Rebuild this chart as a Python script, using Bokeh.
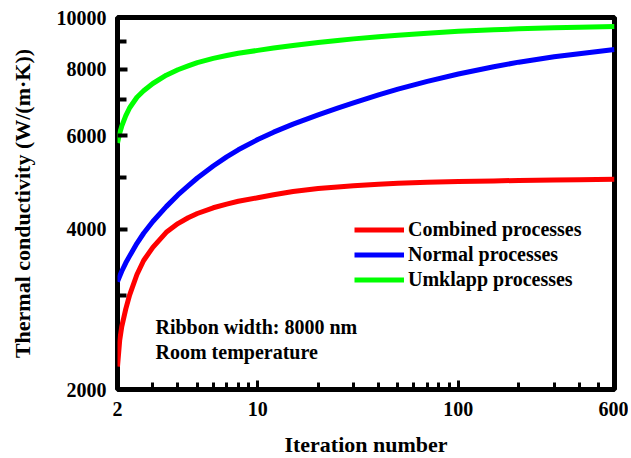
from bokeh.plotting import figure
from bokeh.models import (Range1d, FixedTicker, NumeralTickFormatter, Legend,
                          LegendItem, Label, LogAxis)
from bokeh.embed import file_html
from bokeh.resources import INLINE

# ---- data ----
iterations = [2, 2.05, 2.1, 2.2, 2.3, 2.5, 2.7, 3, 3.5, 4, 4.5, 5, 6, 7, 8, 10, 12, 15, 20, 25,
              30, 40, 50, 70, 100, 150, 200, 300, 400, 600]
combined = [2210, 2470, 2625, 2835, 3013, 3289, 3495, 3700, 3948, 4100, 4205, 4283, 4390, 4460,
            4515, 4585, 4645, 4710, 4770, 4805, 4830, 4862, 4880, 4902, 4918, 4932, 4941, 4951,
            4958, 4965]
normal = [3190, 3264, 3336, 3460, 3565, 3764, 3932, 4138, 4412, 4641, 4825, 4994, 5260, 5473,
          5641, 5897, 6089, 6303, 6561, 6754, 6910, 7154, 7333, 7584, 7831, 8083, 8243, 8439,
          8550, 8705]
umklapp = [5813, 6062, 6249, 6539, 6767, 7082, 7283, 7516, 7790, 7977, 8110, 8228, 8380, 8482,
           8564, 8674, 8762, 8860, 8975, 9056, 9117, 9204, 9264, 9342, 9420, 9485, 9522, 9565,
           9590, 9619]

series_names = ["Combined processes", "Normal processes", "Umklapp processes"]
series_colors = ["#ff0000", "#0000ff", "#00ff00"]

x_ticks = [2, 10, 100, 600]
x_minor = [3, 4, 5, 6, 7, 8, 9, 20, 30, 40, 50, 60, 70, 80, 90, 200, 300, 400, 500]
y_ticks = [2000, 4000, 6000, 8000, 10000]
y_minor = [3000, 5000, 7000, 9000]

x_label = "Iteration number"
y_label = "Thermal conductivity (W/(m\u00b7K))"
notes = ["Ribbon width: 8000 nm", "Room temperature"]

FONT = "Liberation Serif"

p = figure(frame_width=497, frame_height=372,
           x_axis_type="log", y_axis_type="log",
           x_range=Range1d(x_ticks[0], x_ticks[-1]),
           y_range=Range1d(y_ticks[0], y_ticks[-1]),
           output_backend="svg", toolbar_location=None,
           min_border_left=117, min_border_right=14,
           min_border_top=17, min_border_bottom=0)
p.grid.visible = False
p.outline_line_color = "black"
p.outline_line_width = 5
p.outline_line_alpha = 1.0
p.background_fill_color = "white"
p.border_fill_color = "white"

renderers = []
for ys, c in zip([combined, normal, umklapp], series_colors):
    r = p.line(iterations, ys, line_color=c, line_width=5, line_join="round")
    renderers.append(r)

# ---- label axes (no ticks) ----
p.xaxis.ticker = FixedTicker(ticks=x_ticks, minor_ticks=x_minor)
p.yaxis.ticker = FixedTicker(ticks=y_ticks, minor_ticks=y_minor)
for ax in (p.xaxis, p.yaxis):
    ax.formatter = NumeralTickFormatter(format="0")
    ax.axis_line_color = None
    ax.major_tick_line_color = None
    ax.minor_tick_line_color = None
    ax.major_tick_in = 0
    ax.major_tick_out = 0
    ax.minor_tick_in = 0
    ax.minor_tick_out = 0
    ax.major_label_text_font = FONT
    ax.major_label_text_font_style = "bold"
    ax.major_label_text_font_size = "20px"
    ax.major_label_text_color = "black"
    ax.axis_label_text_font = FONT
    ax.axis_label_text_font_style = "bold"
    ax.axis_label_text_font_size = "22px"
    ax.axis_label_text_color = "black"

p.xaxis.major_label_standoff = 12
p.xaxis.axis_label = x_label
p.xaxis.axis_label_standoff = 13
p.yaxis.major_label_standoff = 11
p.yaxis.axis_label = y_label
p.yaxis.axis_label_standoff = 19

# ---- tick-only axes pinned to the frame edges, ticks pointing inward ----
tick_x = LogAxis(ticker=FixedTicker(ticks=x_ticks, minor_ticks=x_minor),
                 fixed_location=y_ticks[0], axis_line_color=None,
                 formatter=NumeralTickFormatter(format="0"),
                 major_label_text_font_size="1px", major_label_text_alpha=0,
                 major_label_standoff=0,
                 major_tick_in=0, major_tick_out=9, minor_tick_in=0, minor_tick_out=7,
                 major_tick_line_width=3, minor_tick_line_width=3,
                 major_tick_line_color="black", minor_tick_line_color="black")
p.add_layout(tick_x, "above")
tick_y = LogAxis(ticker=FixedTicker(ticks=y_ticks, minor_ticks=y_minor),
                 fixed_location=x_ticks[0], axis_line_color=None,
                 formatter=NumeralTickFormatter(format="0"),
                 major_label_text_font_size="1px", major_label_text_alpha=0,
                 major_label_standoff=0,
                 major_tick_in=0, major_tick_out=10, minor_tick_in=0, minor_tick_out=9,
                 major_tick_line_width=4, minor_tick_line_width=4,
                 major_tick_line_color="black", minor_tick_line_color="black")
p.add_layout(tick_y, "right")

legend = Legend(items=[LegendItem(label=n, renderers=[r]) for n, r in zip(series_names, renderers)],
                location=(237, 97), glyph_width=50, glyph_height=25, label_height=25,
                spacing=0, padding=0, margin=0, label_standoff=4,
                label_text_font=FONT, label_text_font_style="bold",
                label_text_font_size="20px", label_text_color="black",
                border_line_color=None, background_fill_alpha=0)
p.add_layout(legend)

for txt, yy in zip(notes, [63, 38]):
    p.add_layout(Label(x=38, y=yy, x_units="screen", y_units="screen", text=txt,
                       text_font=FONT, text_font_style="bold", text_font_size="20px",
                       text_baseline="middle", text_color="black"))

open("out.html", "w").write(file_html(p, INLINE))
